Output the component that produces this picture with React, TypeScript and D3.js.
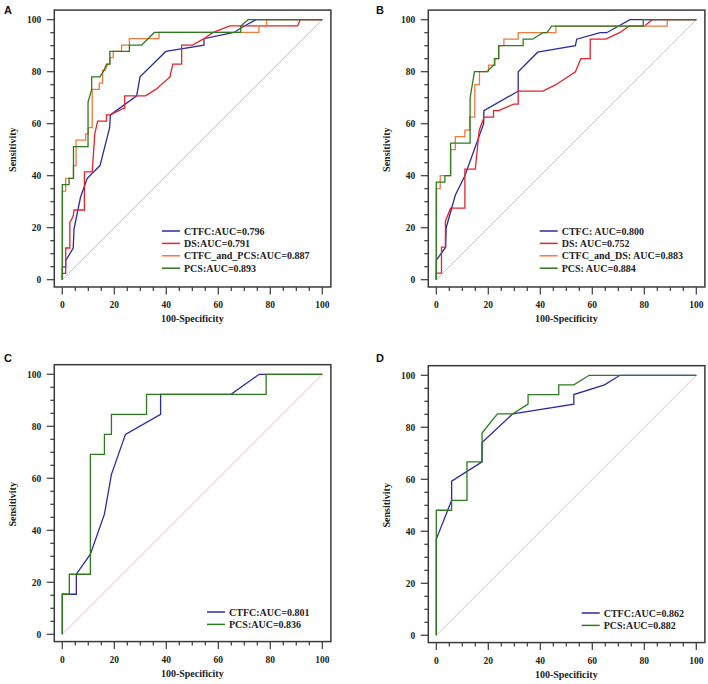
import * as d3 from "d3";

type Pt = [number, number];

// Panel A: 100-Specificity vs Sensitivity
const aCtfc: Pt[] = [[0,0],[0,4.9],[1.3,4.9],[1.3,7.3],[4.2,12.2],[4.5,19.5],[7,31.7],[9.6,39],[14.5,43.9],[18.2,58.5],[18.5,63.4],[28.6,70.7],[29.9,78],[39.8,87.8],[54.5,90.2],[54.5,92.7],[66,95.1],[70,97.6],[74.5,100],[100,100]];
const aDs: Pt[] = [[0,0],[0,2.4],[1.3,2.4],[1.3,12.2],[2.9,12.2],[2.9,22],[4.2,24.4],[4.5,26.8],[8.5,26.8],[8.5,41.5],[11.5,41.5],[12.5,56.1],[13.6,61],[17,61],[17,63.4],[18.5,63.4],[23.5,65.9],[24,65.9],[24,70.7],[32,70.7],[36,73.2],[41.4,78],[42.5,82.9],[45.9,82.9],[45.9,90.2],[50.1,90.2],[54.5,92.7],[58,95.1],[64.5,97.6],[90.5,97.6],[91.5,100],[100,100]];
const aCtfcPcs: Pt[] = [[0,0],[0,34.1],[1.3,34.1],[1.3,39],[4.3,39],[4.3,43.9],[5.3,43.9],[5.3,53.7],[9,53.7],[9,56.1],[10,56.1],[10,58.5],[11.5,58.5],[11.5,73.2],[14.2,73.2],[14.2,75.6],[15.5,75.6],[15.5,80.5],[16.5,80.5],[17.5,82.9],[18.3,82.9],[18.3,85.4],[19.6,85.4],[19.6,87.8],[22.8,87.8],[22.8,90.2],[25.8,90.2],[25.8,92.7],[37.2,92.7],[37.2,95.1],[75.6,95.1],[75.6,97.6],[78.6,97.6],[78.6,100],[100,100]];
const aPcs: Pt[] = [[0,0],[0,36.6],[2.6,36.6],[2.6,39],[4.3,39],[4.3,51.2],[9.9,51.2],[9.9,68.3],[11.3,73.2],[11.3,78],[14.5,78],[16,80.5],[17,82.9],[18.3,82.9],[18.3,87.8],[25.8,87.8],[25.8,90.2],[30.5,90.2],[33,92.7],[35.4,95.1],[68.6,95.1],[68.6,97.6],[71.5,100],[100,100]];

// Panel B
const bCtfc: Pt[] = [[0,0],[0,7.5],[3.6,12.5],[3.8,20],[7.3,32.5],[11,40],[18.2,60],[18.3,65],[31.5,72.5],[31.5,80],[39,87.5],[53.5,90],[54,92.5],[63,95],[65.5,95],[74.5,100],[100,100]];
const bDs: Pt[] = [[0,0],[0,2.5],[2,2.5],[2,12.5],[3.5,12.5],[3.5,22.5],[5.5,27.5],[11,27.5],[11,42.5],[15,42.5],[16.5,57.5],[18.4,62.5],[22,62.5],[22,65],[24,65],[29.7,67.5],[31.5,67.5],[31.5,72.5],[41,72.5],[46,75],[53.5,80],[55.6,85],[59.2,85],[59.2,92.5],[65.2,92.5],[70.5,95],[74.1,97.5],[80,97.5],[83,100],[100,100]];
const bCtfcDs: Pt[] = [[0,0],[0,35],[1.5,35],[1.5,40],[5.5,40],[5.5,50],[7.3,50],[7.3,55],[11,55],[11,57.5],[12.8,57.5],[12.8,62.5],[14.8,62.5],[14.8,75],[16.6,75],[16.6,80],[20.1,80],[20.1,82.5],[22.3,82.5],[22.3,85],[24,85],[24,90],[26,90],[26,92.5],[31.5,92.5],[31.5,95],[46,95],[46,97.5],[88.8,97.5],[88.8,100],[100,100]];
const bPcs: Pt[] = [[0,0],[0,37.5],[3.3,37.5],[3.3,40],[5.5,40],[5.5,52.5],[13,52.5],[13,70],[14.7,80],[19.5,80],[22,82.5],[22.5,82.5],[22.5,85],[24,85],[24,90],[33.4,90],[33.4,92.5],[37,92.5],[41,95],[42.5,95],[44.4,97.5],[79.6,97.5],[79.6,100],[100,100]];

// Panel C
const cCtfc: Pt[] = [[0,0],[0,15.4],[5.4,15.4],[5.4,23.1],[10.8,30.8],[16.2,46.2],[18.9,61.5],[24.3,76.9],[37.8,84.6],[37.8,92.3],[64.9,92.3],[75.7,100],[100,100]];
const cPcs: Pt[] = [[0,0],[0,15.4],[2.7,15.4],[2.7,23.1],[10.8,23.1],[10.8,69.2],[16.2,69.2],[16.2,76.9],[18.9,76.9],[18.9,84.6],[32.4,84.6],[32.4,92.3],[78.4,92.3],[78.4,100],[100,100]];

// Panel D
const dCtfc: Pt[] = [[0,0],[0,37],[5.9,51.9],[5.9,59.3],[17.6,66.7],[17.6,74.1],[29.4,85.2],[52.9,88.9],[52.9,92.6],[64.7,96.3],[70.6,100],[100,100]];
const dPcs: Pt[] = [[0,0],[0,48.1],[5.9,48.1],[5.9,51.9],[11.8,51.9],[11.8,66.7],[17.6,66.7],[17.6,77.8],[23.5,85.2],[29.4,85.2],[35.3,88.9],[35.3,92.6],[47.1,92.6],[47.1,96.3],[52.9,96.3],[58.8,100],[100,100]];

const legendA = ["CTFC:AUC=0.796", "DS:AUC=0.791", "CTFC_and_PCS:AUC=0.887", "PCS:AUC=0.893"];
const legendB = ["CTFC: AUC=0.800", "DS: AUC=0.752", "CTFC_and_DS: AUC=0.883", "PCS: AUC=0.884"];
const legendC = ["CTFC:AUC=0.801", "PCS:AUC=0.836"];
const legendD = ["CTFC:AUC=0.862", "PCS:AUC=0.882"];

const majorTicks = [0, 20, 40, 60, 80, 100];
const minorTicks = d3.range(0, 101, 5);

const BLUE = "#2b2ba0";
const RED = "#e4232b";
const ORANGE = "#f07a3c";
const GREEN = "#2f7a20";

const serif = "'Liberation Serif', 'Times New Roman', serif";
const sans = "'Liberation Sans', Arial, sans-serif";

type Series = { data: Pt[]; color: string; label: string };

type PanelProps = {
  letter: string;
  letterX: number;
  letterY: number;
  ox: number; // pixel of x=0
  oy: number; // pixel of y=100
  series: Series[];
  legendX: number;
  legendY: number;
};

const Panel = ({ letter, letterX, letterY, ox, oy, series, legendX, legendY }: PanelProps) => {
  const x = d3.scaleLinear().domain([0, 100]).range([ox, ox + 260]);
  const y = d3.scaleLinear().domain([0, 100]).range([oy + 260, oy]);
  const line = d3
    .line<Pt>()
    .x((d) => x(d[0]))
    .y((d) => y(d[1]));

  const fl = x(-3.08);
  const fr = x(103.3);
  const ft = y(103.7);
  const fb = y(-2.8);

  return (
    <g>
      <text x={letterX} y={letterY} fontFamily={sans} fontWeight="bold" fontSize={11} fill="#111">
        {letter}
      </text>
      {/* diagonal reference */}
      <line x1={x(0)} y1={y(0)} x2={x(100)} y2={y(100)} stroke="#d9aaaa" strokeWidth={0.8} />
      {series.map((s) => (
        <path key={s.label} d={line(s.data)!} fill="none" stroke={s.color} strokeWidth={1.3} />
      ))}
      <rect x={fl} y={ft} width={fr - fl} height={fb - ft} fill="none" stroke="#3a3a3a" strokeWidth={1.5} />
      {/* left axis ticks */}
      {minorTicks.map((t) => (
        <line key={"ly" + t} x1={fl} x2={fl - (t % 20 === 0 ? 7.5 : 4)} y1={y(t)} y2={y(t)} stroke="#3a3a3a" strokeWidth={1.2} />
      ))}
      {majorTicks.map((t) => (
        <text key={"lt" + t} x={fl - 13} y={y(t)} dy="0.35em" textAnchor="end" fontFamily={serif} fontWeight="bold" fontSize={9.5} fill="#222">
          {t}
        </text>
      ))}
      {/* bottom axis ticks */}
      {minorTicks.map((t) => (
        <line key={"bx" + t} y1={fb} y2={fb + (t % 20 === 0 ? 7.5 : 4)} x1={x(t)} x2={x(t)} stroke="#3a3a3a" strokeWidth={1.2} />
      ))}
      {majorTicks.map((t) => (
        <text key={"bt" + t} x={x(t)} y={fb + 21} textAnchor="middle" fontFamily={serif} fontWeight="bold" fontSize={9.5} fill="#222">
          {t}
        </text>
      ))}
      <text x={x(50)} y={fb + 35} textAnchor="middle" fontFamily={serif} fontWeight="bold" fontSize={10} fill="#222">
        100-Specificity
      </text>
      <text
        transform={`translate(${fl - 42},${y(50)}) rotate(-90)`}
        textAnchor="middle"
        dy="0.35em"
        fontFamily={serif}
        fontWeight="bold"
        fontSize={10}
        fill="#222"
      >
        Sensitivity
      </text>
      {/* legend */}
      {series.map((s, i) => (
        <g key={"lg" + s.label} transform={`translate(${legendX},${legendY + i * 12.4})`}>
          <line x1={0} x2={18} y1={0} y2={0} stroke={s.color} strokeWidth={1.5} />
          <text x={22} y={0} dy="0.35em" fontFamily={serif} fontWeight="bold" fontSize={10} fill="#222">
            {s.label}
          </text>
        </g>
      ))}
    </g>
  );
};

export default function App() {
  return (
    <svg width={708} height={684} style={{ position: "absolute", left: 0, top: 0, background: "#fff" }}>
      <rect width={708} height={684} fill="#fff" />
      <Panel
        letter="A"
        letterX={4}
        letterY={14}
        ox={62.3}
        oy={19.7}
        legendX={162}
        legendY={231}
        series={[
          { data: aCtfc, color: BLUE, label: legendA[0] },
          { data: aDs, color: RED, label: legendA[1] },
          { data: aCtfcPcs, color: ORANGE, label: legendA[2] },
          { data: aPcs, color: GREEN, label: legendA[3] },
        ]}
      />
      <Panel
        letter="B"
        letterX={376}
        letterY={14}
        ox={436.3}
        oy={19.7}
        legendX={539.7}
        legendY={231}
        series={[
          { data: bCtfc, color: BLUE, label: legendB[0] },
          { data: bDs, color: RED, label: legendB[1] },
          { data: bCtfcDs, color: ORANGE, label: legendB[2] },
          { data: bPcs, color: GREEN, label: legendB[3] },
        ]}
      />
      <Panel
        letter="C"
        letterX={4}
        letterY={362}
        ox={62.3}
        oy={374.3}
        legendX={207}
        legendY={612}
        series={[
          { data: cCtfc, color: BLUE, label: legendC[0] },
          { data: cPcs, color: GREEN, label: legendC[1] },
        ]}
      />
      <Panel
        letter="D"
        letterX={376}
        letterY={362}
        ox={436.3}
        oy={375.3}
        legendX={581.7}
        legendY={613}
        series={[
          { data: dCtfc, color: BLUE, label: legendD[0] },
          { data: dPcs, color: GREEN, label: legendD[1] },
        ]}
      />
    </svg>
  );
}
